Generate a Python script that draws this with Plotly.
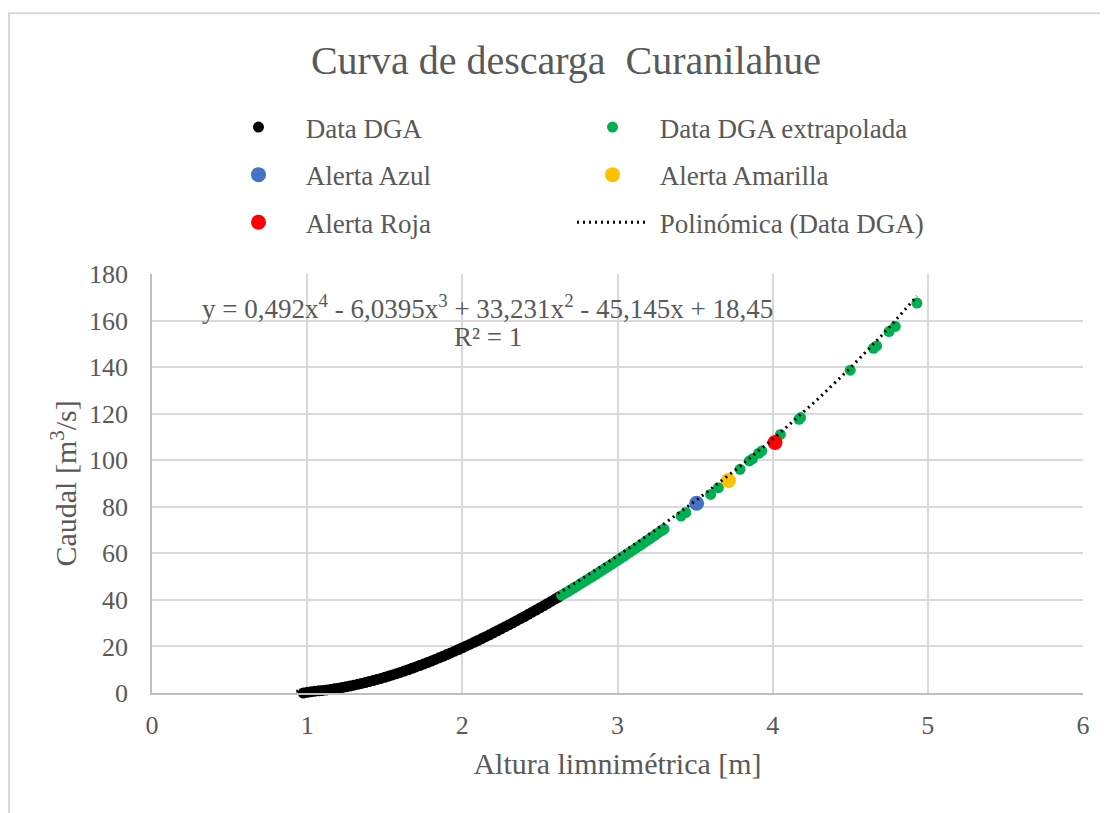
import numpy as np
import plotly.graph_objects as go

# ---------------- data ----------------
dga_x = [0.93, 0.95, 0.975, 1.00, 1.025, 1.05, 1.075, 1.10, 1.125, 1.15, 1.175, 1.20, 1.225,
         1.25, 1.275, 1.30, 1.325, 1.35, 1.375, 1.40, 1.425, 1.45, 1.475, 1.50, 1.525,
         1.55, 1.575, 1.60, 1.625, 1.65, 1.675, 1.70, 1.725, 1.75, 1.775, 1.80, 1.825,
         1.85, 1.875, 1.90, 1.925, 1.95, 1.975, 2.00, 2.025, 2.05, 2.075, 2.10, 2.125,
         2.15, 2.175, 2.20, 2.225, 2.25, 2.275, 2.30, 2.325, 2.35, 2.375, 2.40, 2.425,
         2.45, 2.475, 2.50, 2.525, 2.55, 2.575, 2.60, 2.62]
dga_y = [-0.50, -0.30, 0.00, 0.30, 0.55, 0.76, 0.93, 1.11, 1.32, 1.55, 1.80, 2.07, 2.36,
         2.67, 3.00, 3.35, 3.72, 4.10, 4.50, 4.92, 5.36, 5.81, 6.28, 6.76, 7.26,
         7.78, 8.31, 8.86, 9.42, 9.99, 10.58, 11.19, 11.81, 12.44, 13.08, 13.74, 14.41,
         15.10, 15.79, 16.50, 17.22, 17.95, 18.69, 19.44, 20.20, 20.98, 21.76, 22.56, 23.37,
         24.19, 25.01, 25.85, 26.69, 27.55, 28.41, 29.28, 30.16, 31.06, 31.96, 32.87, 33.78,
         34.71, 35.64, 36.58, 37.53, 38.49, 39.45, 40.43, 41.22]

ext_x = [2.64, 2.66, 2.68, 2.70, 2.72, 2.74, 2.76, 2.78, 2.80, 2.82, 2.84, 2.86, 2.88,
         2.90, 2.92, 2.94, 2.96, 2.98, 3.00, 3.02, 3.04, 3.06, 3.08, 3.10, 3.12, 3.14,
         3.16, 3.18, 3.20, 3.22, 3.24, 3.26, 3.28, 3.29, 3.30,
         3.41, 3.44, 3.60, 3.65, 3.79, 3.85, 3.87, 3.91, 3.93, 4.05, 4.17, 4.18,
         4.50, 4.65, 4.67, 4.75, 4.79, 4.93]
ext_y = [42.00, 42.80, 43.59, 44.40, 45.21, 46.02, 46.84, 47.66, 48.48, 49.31, 50.15, 50.98, 51.82,
         52.67, 53.53, 54.39, 55.25, 56.11, 56.98, 57.85, 58.73, 59.62, 60.51, 61.40, 62.30, 63.20,
         64.10, 65.01, 65.92, 66.84, 67.76, 68.69, 69.62, 70.00, 70.40,
         76.0, 77.5, 85.3, 88.2, 96.1, 99.7, 100.6, 103.0, 104.0, 111.1, 117.6, 118.3,
         138.7, 148.1, 149.1, 155.3, 157.5, 167.5]

azul_x, azul_y = [3.51], [81.5]
amarilla_x, amarilla_y = [3.715], [91.3]
roja_x, roja_y = [4.015], [107.6]

# trendline coefficients shown on the chart (highest power first)
poly_coef = [0.492, -6.0395, 33.231, -45.145, 18.45]
trend_range = [0.93, 4.93]

x_ticks = [0, 1, 2, 3, 4, 5, 6]
y_ticks = [0, 20, 40, 60, 80, 100, 120, 140, 160, 180]

# ---------------- figure ----------------
FONT = "Liberation Serif, Times New Roman, serif"
GREY = "#595959"
NB = "\u00a0"

trend_x = np.linspace(trend_range[0], trend_range[1], 300)
trend_y = np.polyval(poly_coef, trend_x)

fig = go.Figure()
fig.add_trace(go.Scatter(x=dga_x, y=dga_y, mode="markers", name=NB + "Data DGA",
                         marker=dict(color="#000000", size=11), legend="legend",
                         legendgroup="a", legendrank=1, cliponaxis=False))
fig.add_trace(go.Scatter(x=ext_x, y=ext_y, mode="markers", name=NB + "Data DGA extrapolada",
                         marker=dict(color="#00b050", size=11), legend="legend2",
                         legendgroup="b", legendrank=1))
fig.add_trace(go.Scatter(x=azul_x, y=azul_y, mode="markers", name=NB + "Alerta Azul",
                         marker=dict(color="#4472c4", size=15), legend="legend",
                         legendgroup="c", legendrank=2))
fig.add_trace(go.Scatter(x=amarilla_x, y=amarilla_y, mode="markers", name=NB + "Alerta Amarilla",
                         marker=dict(color="#ffc000", size=15), legend="legend2",
                         legendgroup="d", legendrank=2))
fig.add_trace(go.Scatter(x=roja_x, y=roja_y, mode="markers", name=NB + "Alerta Roja",
                         marker=dict(color="#ff0000", size=15), legend="legend",
                         legendgroup="e", legendrank=3))
fig.add_trace(go.Scatter(x=trend_x, y=trend_y, mode="lines", name=NB + "Polinómica (Data DGA)",
                         line=dict(color="#000000", width=3, dash="2px,4px"),
                         legend="legend2", legendgroup="f", legendrank=3))

legend_common = dict(font=dict(family=FONT, size=27, color=GREY), bgcolor="rgba(0,0,0,0)",
                     orientation="v", tracegroupgap=9.5, itemwidth=71,
                     xanchor="left", yanchor="top", yref="container", xref="container")

fig.update_layout(
    width=1108, height=813,
    paper_bgcolor="white", plot_bgcolor="white",
    margin=dict(l=144, r=33, t=266, b=128, autoexpand=False),
    title=dict(text="Curva de descarga  Curanilahue", x=558 / 1108, xref="container",
               xanchor="center", y=1 - 52 / 813, yref="container", yanchor="middle",
               font=dict(family=FONT, size=40, color=GREY)),
    legend=dict(x=210 / 1108, y=1 - 95 / 813, **legend_common),
    legend2=dict(x=564 / 1108, y=1 - 95 / 813, **legend_common),
    xaxis=dict(range=[0, 6], tickvals=x_ticks, showgrid=True, gridcolor="#d9d9d9", gridwidth=1.5,
               zeroline=False, showline=True, linecolor="#bfbfbf", linewidth=1.5,
               ticks="", ticklabelstandoff=8,
               tickfont=dict(family=FONT, size=26, color=GREY),
               title=dict(text="Altura limnimétrica [m]", standoff=14,
                          font=dict(family=FONT, size=30, color=GREY))),
    yaxis=dict(range=[0, 180], tickvals=y_ticks, showgrid=True, gridcolor="#d9d9d9", gridwidth=1.5,
               zeroline=False, showline=True, linecolor="#bfbfbf", linewidth=1.5,
               ticks="", ticklabelstandoff=17,
               tickfont=dict(family=FONT, size=26, color=GREY)),
    showlegend=True,
)

fig.add_annotation(x=-0.0955, y=0.5, xref="paper", yref="paper", showarrow=False,
                   textangle=-90, xanchor="center", yanchor="middle",
                   text="Caudal [m<sup>3</sup>/s]", font=dict(family=FONT, size=30, color=GREY))
fig.add_annotation(x=2.165, y=165.8, xref="x", yref="y", showarrow=False,
                   text="y = 0,492x<sup>4</sup> - 6,0395x<sup>3</sup> + 33,231x<sup>2</sup> - 45,145x + 18,45",
                   font=dict(family=FONT, size=27, color=GREY))
fig.add_annotation(x=2.165, y=152.9, xref="x", yref="y", showarrow=False,
                   text="R² = 1", font=dict(family=FONT, size=27, color=GREY))

fig.add_shape(type="rect", xref="paper", yref="paper",
              x0=-0.1536, x1=1.034, y0=-0.326, y1=1.6225,
              line=dict(color="#d9d9d9", width=2), fillcolor="rgba(0,0,0,0)", layer="below")

fig.write_html("out.html")
